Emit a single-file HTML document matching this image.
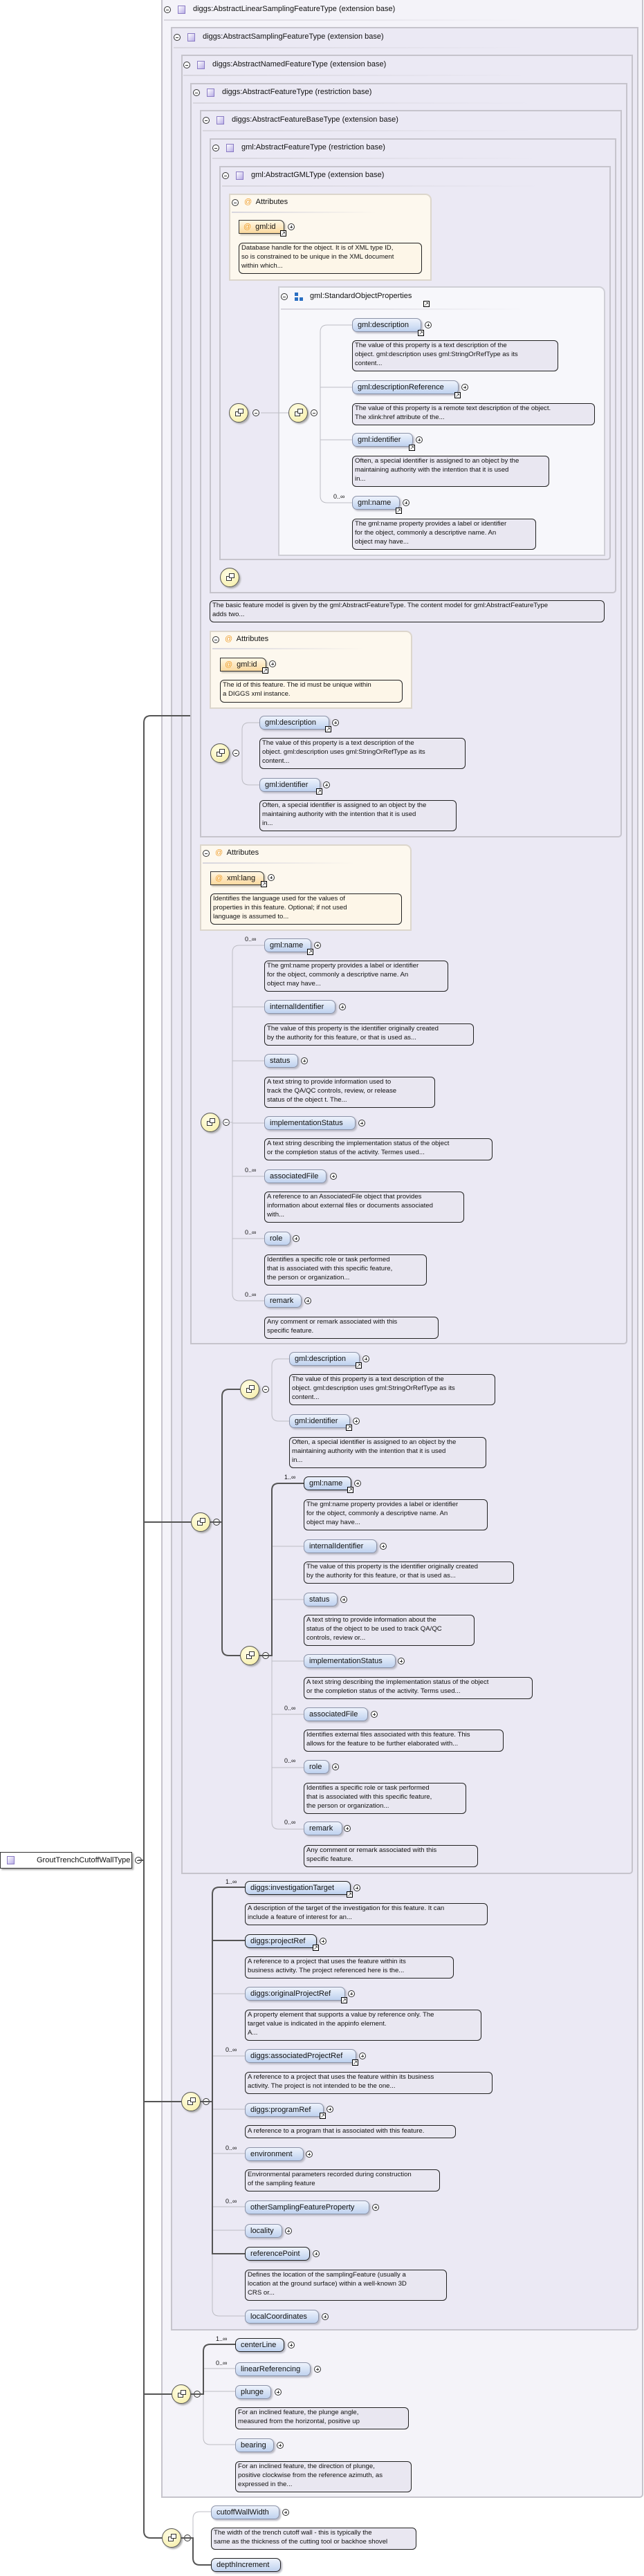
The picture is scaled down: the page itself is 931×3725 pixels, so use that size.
<!DOCTYPE html>
<html><head><meta charset="utf-8"><style>
*{box-sizing:border-box;margin:0;padding:0}
body{width:931px;height:3725px;position:relative;background:#fff;font-family:"Liberation Sans",sans-serif;color:#111;overflow:hidden}
.bx{position:absolute;border:2px solid #c6c4cc;border-radius:0 0 5px 0;background:#ebe9f4}
.b1{background:#f4f3f9}
.hd{position:absolute;font-size:11px;white-space:nowrap}
.mn{position:absolute;width:10px;height:10px;border:1px solid #333;border-radius:50%;background:#fff}
.mn:after{content:"";position:absolute;left:2px;top:4px;width:4px;height:1px;background:#333}
.pl{position:absolute;width:10px;height:10px;border:1px solid #333;border-radius:50%;background:#fff}
.pl:after{content:"";position:absolute;left:2px;top:4px;width:4px;height:1px;background:#333}
.pl:before{content:"";position:absolute;left:4px;top:2px;width:1px;height:4px;background:#333}
.sq{position:absolute;width:11px;height:12px;border:1px solid #8a7bc4;background:linear-gradient(135deg,#fff,#b9aee6)}
.sep{position:absolute;height:2px;background:linear-gradient(90deg,#d8d6de,rgba(216,214,222,0))}
.p{position:absolute;height:20px;border:1px solid #8c93a8;border-radius:7px;background:linear-gradient(#eef3fc,#bfd2ef);font-size:11px;line-height:18px;padding-left:7px;white-space:nowrap;box-shadow:2px 2px 2px #b9b9c4}
.p.k{border:1.5px solid #222}
.a{position:absolute;height:20px;border:1px solid #333;border-radius:0 7px 0 0;background:linear-gradient(#fff7e4,#fbd99e);font-size:11px;line-height:18px;padding-left:6px;white-space:nowrap;box-shadow:2px 2px 2px #c9c2b4}
.a i{color:#f0a030;font-style:normal;margin-right:6px}
.lk{position:absolute;width:9px;height:9px;border:1px solid #000;background:#fff;font-size:8px;line-height:7px;text-align:center}
.d{position:absolute;border:1px solid #222;border-radius:6px;background:#e9e7f1;font-size:9.6px;line-height:13px;padding:0 3px;white-space:nowrap;overflow:hidden}
.d.y{background:#fdf6e8}
.m{position:absolute;font-size:9px}
.at{position:absolute;border:2px solid #dcd6cc;border-radius:0 9px 0 0;background:#fdf8ee}
.sop{position:absolute;border:2px solid #cfcfd6;border-radius:0 9px 0 0;background:#f7f7fb}
.sc{position:absolute;width:28px;height:28px;border-radius:50%;border:1px solid #555;background:radial-gradient(circle at 40% 35%,#fffde6,#f5eda0);box-shadow:2px 2px 2px #aaa}
.sc:before{content:"";position:absolute;left:8px;top:11px;width:6px;height:5px;border:1px solid #333;background:#fff}
.sc:after{content:"";position:absolute;left:12px;top:7px;width:6px;height:5px;border:1px solid #333;background:#fff}
.root{position:absolute;left:0;top:2678px;width:191px;height:24px;border:1px solid #333;background:#fff;font-size:11px;line-height:22px;padding-left:52px;box-shadow:2px 2px 2px #aaa}
</style></head><body>

<!-- boxes -->
<div class="bx b1" style="left:233px;top:-2px;width:697px;height:3614px"></div>
<div class="bx" style="left:247px;top:39px;width:676px;height:3331px"></div>
<div class="bx" style="left:262px;top:79px;width:653px;height:2631px"></div>
<div class="bx" style="left:275px;top:120px;width:632px;height:1824px"></div>
<div class="bx" style="left:289px;top:159px;width:610px;height:1052px"></div>
<div class="bx" style="left:303px;top:200px;width:588px;height:658px"></div>
<div class="bx" style="left:317px;top:240px;width:566px;height:570px"></div>

<!-- headers -->
<div class="mn" style="left:237px;top:9px"></div><div class="sq" style="left:257px;top:8px"></div><div class="hd" style="left:279px;top:7px">diggs:AbstractLinearSamplingFeatureType (extension base)</div><div class="sep" style="left:237px;top:28px;width:520px"></div>
<div class="mn" style="left:251px;top:49px"></div><div class="sq" style="left:271px;top:48px"></div><div class="hd" style="left:293px;top:47px">diggs:AbstractSamplingFeatureType (extension base)</div><div class="sep" style="left:251px;top:68px;width:510px"></div>
<div class="mn" style="left:265px;top:89px"></div><div class="sq" style="left:285px;top:88px"></div><div class="hd" style="left:307px;top:87px">diggs:AbstractNamedFeatureType (extension base)</div><div class="sep" style="left:265px;top:108px;width:500px"></div>
<div class="mn" style="left:279px;top:129px"></div><div class="sq" style="left:299px;top:128px"></div><div class="hd" style="left:321px;top:127px">diggs:AbstractFeatureType (restriction base)</div><div class="sep" style="left:279px;top:148px;width:490px"></div>
<div class="mn" style="left:293px;top:169px"></div><div class="sq" style="left:313px;top:168px"></div><div class="hd" style="left:335px;top:167px">diggs:AbstractFeatureBaseType (extension base)</div><div class="sep" style="left:293px;top:188px;width:480px"></div>
<div class="mn" style="left:307px;top:209px"></div><div class="sq" style="left:327px;top:208px"></div><div class="hd" style="left:349px;top:207px">gml:AbstractFeatureType (restriction base)</div><div class="sep" style="left:307px;top:228px;width:470px"></div>
<div class="mn" style="left:321px;top:249px"></div><div class="sq" style="left:341px;top:248px"></div><div class="hd" style="left:363px;top:247px">gml:AbstractGMLType (extension base)</div><div class="sep" style="left:321px;top:268px;width:460px"></div>

<!-- Attributes box 1 -->
<div class="at" style="left:331px;top:280px;width:293px;height:126px"></div>
<div class="mn" style="left:335px;top:288px"></div><div class="hd" style="left:353px;top:286px"><span style="color:#f0a030">@</span>&nbsp; Attributes</div><div class="sep" style="left:335px;top:306px;width:210px"></div>
<div class="a" style="left:345px;top:318px;width:66px"><i>@</i>gml:id</div><div class="lk" style="left:405px;top:333px">↗</div><div class="pl" style="left:416px;top:323px"></div>
<div class="d y" style="left:345px;top:351px;width:265px;height:45px">Database handle for the object. It is of XML type ID,<br>so is constrained to be unique in the XML document<br>within which...</div>

<!-- StandardObjectProperties -->
<div class="sop" style="left:402px;top:414px;width:473px;height:390px"></div>
<div class="mn" style="left:406px;top:424px"></div>
<div style="position:absolute;left:426px;top:423px;width:5px;height:5px;background:#2a6fc2"></div><div style="position:absolute;left:426px;top:430px;width:5px;height:5px;background:#2a6fc2"></div><div style="position:absolute;left:433px;top:430px;width:5px;height:5px;background:#2a6fc2"></div>
<div class="hd" style="left:448px;top:422px">gml:StandardObjectProperties</div><div class="lk" style="left:612px;top:435px">↗</div><div class="sep" style="left:406px;top:446px;width:350px"></div>

<div class="p" style="left:509px;top:460px;width:100px">gml:description</div><div class="lk" style="left:604px;top:477px">↗</div><div class="pl" style="left:614px;top:465px"></div>
<div class="d" style="left:509px;top:492px;width:298px;height:45px">The value of this property is a text description of the<br>object. gml:description uses gml:StringOrRefType as its<br>content...</div>
<div class="p" style="left:509px;top:550px;width:154px">gml:descriptionReference</div><div class="lk" style="left:657px;top:567px">↗</div><div class="pl" style="left:667px;top:555px"></div>
<div class="d" style="left:509px;top:583px;width:351px;height:32px">The value of this property is a remote text description of the object.<br>The xlink:href attribute of the...</div>
<div class="p" style="left:509px;top:626px;width:88px">gml:identifier</div><div class="lk" style="left:591px;top:643px">↗</div><div class="pl" style="left:601px;top:631px"></div>
<div class="d" style="left:509px;top:659px;width:285px;height:45px">Often, a special identifier is assigned to an object by the<br>maintaining authority with the intention that it is used<br>in...</div>
<div class="m" style="left:482px;top:713px">0..∞</div>
<div class="p" style="left:509px;top:717px;width:69px">gml:name</div><div class="lk" style="left:572px;top:734px">↗</div><div class="pl" style="left:582px;top:722px"></div>
<div class="d" style="left:509px;top:750px;width:266px;height:45px">The gml:name property provides a label or identifier<br>for the object, commonly a descriptive name. An<br>object may have...</div>

<div class="sc" style="left:331px;top:583px"></div><div class="mn" style="left:365px;top:592px"></div>
<div class="sc" style="left:417px;top:583px"></div><div class="mn" style="left:449px;top:592px"></div>
<div class="sc" style="left:318px;top:821px"></div>

<div class="d" style="left:303px;top:868px;width:571px;height:32px">The basic feature model is given by the gml:AbstractFeatureType. The content model for gml:AbstractFeatureType<br>adds two...</div>

<!-- Attributes 2 -->
<div class="at" style="left:303px;top:912px;width:293px;height:113px"></div>
<div class="mn" style="left:307px;top:920px"></div><div class="hd" style="left:325px;top:918px"><span style="color:#f0a030">@</span>&nbsp; Attributes</div><div class="sep" style="left:307px;top:937px;width:220px"></div>
<div class="a" style="left:318px;top:951px;width:67px"><i>@</i>gml:id</div><div class="lk" style="left:379px;top:965px">↗</div><div class="pl" style="left:389px;top:955px"></div>
<div class="d y" style="left:318px;top:983px;width:264px;height:33px">The id of this feature. The id must be unique within<br>a DIGGS xml instance.</div>

<div class="sc" style="left:304px;top:1075px"></div><div class="mn" style="left:336px;top:1084px"></div>
<div class="p" style="left:375px;top:1035px;width:101px">gml:description</div><div class="lk" style="left:470px;top:1050px">↗</div><div class="pl" style="left:480px;top:1040px"></div>
<div class="d" style="left:375px;top:1067px;width:298px;height:45px">The value of this property is a text description of the<br>object. gml:description uses gml:StringOrRefType as its<br>content...</div>
<div class="p" style="left:375px;top:1125px;width:88px">gml:identifier</div><div class="lk" style="left:457px;top:1140px">↗</div><div class="pl" style="left:467px;top:1130px"></div>
<div class="d" style="left:375px;top:1157px;width:285px;height:45px">Often, a special identifier is assigned to an object by the<br>maintaining authority with the intention that it is used<br>in...</div>

<!-- Attributes 3 -->
<div class="at" style="left:289px;top:1221px;width:306px;height:125px"></div>
<div class="mn" style="left:293px;top:1229px"></div><div class="hd" style="left:311px;top:1227px"><span style="color:#f0a030">@</span>&nbsp; Attributes</div><div class="sep" style="left:293px;top:1247px;width:220px"></div>
<div class="a" style="left:304px;top:1260px;width:78px"><i>@</i>xml:lang</div><div class="lk" style="left:377px;top:1274px">↗</div><div class="pl" style="left:387px;top:1264px"></div>
<div class="d y" style="left:304px;top:1292px;width:277px;height:45px">Identifies the language used for the values of<br>properties in this feature. Optional; if not used<br>language is assumed to...</div>

<!-- Box4 sequence -->
<div class="sc" style="left:290px;top:1609px"></div><div class="mn" style="left:322px;top:1618px"></div>
<div class="m" style="left:354px;top:1353px">0..∞</div>
<div class="p" style="left:382px;top:1357px;width:68px">gml:name</div><div class="lk" style="left:444px;top:1372px">↗</div><div class="pl" style="left:454px;top:1362px"></div>
<div class="d" style="left:382px;top:1389px;width:266px;height:45px">The gml:name property provides a label or identifier<br>for the object, commonly a descriptive name. An<br>object may have...</div>
<div class="p" style="left:382px;top:1446px;width:103px">internalIdentifier</div><div class="pl" style="left:490px;top:1451px"></div>
<div class="d" style="left:382px;top:1480px;width:303px;height:32px">The value of this property is the identifier originally created<br>by the authority for this feature, or that is used as...</div>
<div class="p" style="left:382px;top:1524px;width:49px">status</div><div class="pl" style="left:435px;top:1529px"></div>
<div class="d" style="left:382px;top:1557px;width:247px;height:45px">A text string to provide information used to<br>track the QA/QC controls, review, or release<br>status of the object t. The...</div>
<div class="p" style="left:382px;top:1614px;width:132px">implementationStatus</div><div class="pl" style="left:518px;top:1619px"></div>
<div class="d" style="left:382px;top:1646px;width:330px;height:32px">A text string describing the implementation status of the object<br>or the completion status of the activity. Termes used...</div>
<div class="m" style="left:354px;top:1687px">0..∞</div>
<div class="p" style="left:382px;top:1691px;width:90px">associatedFile</div><div class="pl" style="left:477px;top:1696px"></div>
<div class="d" style="left:382px;top:1723px;width:289px;height:45px">A reference to an AssociatedFile object that provides<br>information about external files or documents associated<br>with...</div>
<div class="m" style="left:354px;top:1777px">0..∞</div>
<div class="p" style="left:382px;top:1781px;width:38px">role</div><div class="pl" style="left:423px;top:1786px"></div>
<div class="d" style="left:382px;top:1814px;width:235px;height:45px">Identifies a specific role or task performed<br>that is associated with this specific feature,<br>the person or organization...</div>
<div class="m" style="left:354px;top:1867px">0..∞</div>
<div class="p" style="left:382px;top:1871px;width:54px">remark</div><div class="pl" style="left:440px;top:1876px"></div>
<div class="d" style="left:382px;top:1904px;width:252px;height:32px">Any comment or remark associated with this<br>specific feature.</div>

<!-- Box3 choice -->
<div class="sc" style="left:276px;top:2187px"></div><div class="mn" style="left:308px;top:2196px"></div>
<div class="sc" style="left:347px;top:1995px"></div><div class="mn" style="left:379px;top:2004px"></div>
<div class="sc" style="left:347px;top:2380px"></div><div class="mn" style="left:379px;top:2389px"></div>
<div class="p" style="left:418px;top:1955px;width:102px">gml:description</div><div class="lk" style="left:514px;top:1970px">↗</div><div class="pl" style="left:524px;top:1960px"></div>
<div class="d" style="left:418px;top:1987px;width:298px;height:45px">The value of this property is a text description of the<br>object. gml:description uses gml:StringOrRefType as its<br>content...</div>
<div class="p" style="left:418px;top:2045px;width:88px">gml:identifier</div><div class="lk" style="left:500px;top:2060px">↗</div><div class="pl" style="left:510px;top:2050px"></div>
<div class="d" style="left:418px;top:2078px;width:285px;height:45px">Often, a special identifier is assigned to an object by the<br>maintaining authority with the intention that it is used<br>in...</div>
<div class="m" style="left:411px;top:2131px">1..∞</div>
<div class="p k" style="left:439px;top:2135px;width:69px">gml:name</div><div class="lk" style="left:502px;top:2150px">↗</div><div class="pl" style="left:512px;top:2140px"></div>
<div class="d" style="left:439px;top:2168px;width:266px;height:45px">The gml:name property provides a label or identifier<br>for the object, commonly a descriptive name. An<br>object may have...</div>
<div class="p" style="left:439px;top:2226px;width:106px">internalIdentifier</div><div class="pl" style="left:549px;top:2231px"></div>
<div class="d" style="left:439px;top:2258px;width:304px;height:32px">The value of this property is the identifier originally created<br>by the authority for this feature, or that is used as...</div>
<div class="p" style="left:439px;top:2303px;width:49px">status</div><div class="pl" style="left:492px;top:2308px"></div>
<div class="d" style="left:439px;top:2335px;width:247px;height:45px">A text string to provide information about the<br>status of the object to be used to track QA/QC<br>controls, review or...</div>
<div class="p" style="left:439px;top:2392px;width:133px">implementationStatus</div><div class="pl" style="left:575px;top:2397px"></div>
<div class="d" style="left:439px;top:2425px;width:331px;height:32px">A text string describing the implementation status of the object<br>or the completion status of the activity. Terms used...</div>
<div class="m" style="left:411px;top:2465px">0..∞</div>
<div class="p" style="left:439px;top:2469px;width:93px">associatedFile</div><div class="pl" style="left:536px;top:2474px"></div>
<div class="d" style="left:439px;top:2501px;width:289px;height:32px">Identifies external files associated with this feature. This<br>allows for the feature to be further elaborated with...</div>
<div class="m" style="left:411px;top:2541px">0..∞</div>
<div class="p" style="left:439px;top:2545px;width:37px">role</div><div class="pl" style="left:480px;top:2550px"></div>
<div class="d" style="left:439px;top:2578px;width:235px;height:45px">Identifies a specific role or task performed<br>that is associated with this specific feature,<br>the person or organization...</div>
<div class="m" style="left:411px;top:2630px">0..∞</div>
<div class="p" style="left:439px;top:2634px;width:56px">remark</div><div class="pl" style="left:497px;top:2639px"></div>
<div class="d" style="left:439px;top:2668px;width:252px;height:32px">Any comment or remark associated with this<br>specific feature.</div>

<!-- Box2 sequence -->
<div class="sc" style="left:262px;top:3025px"></div><div class="mn" style="left:293px;top:3034px"></div>
<div class="m" style="left:326px;top:2716px">1..∞</div>
<div class="p k" style="left:354px;top:2720px;width:153px">diggs:investigationTarget</div><div class="lk" style="left:501px;top:2735px">↗</div><div class="pl" style="left:511px;top:2725px"></div>
<div class="d" style="left:354px;top:2752px;width:351px;height:32px">A description of the target of the investigation for this feature. It can<br>include a feature of interest for an...</div>
<div class="p k" style="left:354px;top:2797px;width:104px">diggs:projectRef</div><div class="lk" style="left:452px;top:2812px">↗</div><div class="pl" style="left:462px;top:2802px"></div>
<div class="d" style="left:354px;top:2829px;width:302px;height:32px">A reference to a project that uses the feature within its<br>business activity. The project referenced here is the...</div>
<div class="p" style="left:354px;top:2873px;width:145px">diggs:originalProjectRef</div><div class="lk" style="left:493px;top:2888px">↗</div><div class="pl" style="left:503px;top:2878px"></div>
<div class="d" style="left:354px;top:2906px;width:342px;height:45px">A property element that supports a value by reference only. The<br>target value is indicated in the appinfo element.<br>A...</div>
<div class="m" style="left:326px;top:2959px">0..∞</div>
<div class="p" style="left:354px;top:2963px;width:161px">diggs:associatedProjectRef</div><div class="lk" style="left:509px;top:2978px">↗</div><div class="pl" style="left:519px;top:2968px"></div>
<div class="d" style="left:354px;top:2996px;width:358px;height:32px">A reference to a project that uses the feature within its business<br>activity. The project is not intended to be the one...</div>
<div class="p" style="left:354px;top:3041px;width:114px">diggs:programRef</div><div class="lk" style="left:462px;top:3055px">↗</div><div class="pl" style="left:472px;top:3045px"></div>
<div class="d" style="left:354px;top:3073px;width:305px;height:19px;line-height:16px">A reference to a program that is associated with this feature.</div>
<div class="m" style="left:326px;top:3101px">0..∞</div>
<div class="p" style="left:354px;top:3105px;width:85px">environment</div><div class="pl" style="left:442px;top:3110px"></div>
<div class="d" style="left:354px;top:3137px;width:282px;height:32px">Environmental parameters recorded during construction<br>of the sampling feature</div>
<div class="m" style="left:326px;top:3178px">0..∞</div>
<div class="p" style="left:354px;top:3182px;width:180px">otherSamplingFeatureProperty</div><div class="pl" style="left:538px;top:3187px"></div>
<div class="p" style="left:354px;top:3216px;width:54px">locality</div><div class="pl" style="left:412px;top:3221px"></div>
<div class="p k" style="left:354px;top:3249px;width:94px">referencePoint</div><div class="pl" style="left:452px;top:3254px"></div>
<div class="d" style="left:354px;top:3282px;width:292px;height:45px">Defines the location of the samplingFeature (usually a<br>location at the ground surface) within a well-known 3D<br>CRS or...</div>
<div class="p" style="left:354px;top:3340px;width:107px">localCoordinates</div><div class="pl" style="left:465px;top:3345px"></div>

<!-- Box1 sequence -->
<div class="sc" style="left:248px;top:3448px"></div><div class="mn" style="left:280px;top:3457px"></div>
<div class="m" style="left:312px;top:3377px">1..∞</div>
<div class="p k" style="left:340px;top:3381px;width:71px">centerLine</div><div class="pl" style="left:416px;top:3386px"></div>
<div class="m" style="left:312px;top:3412px">0..∞</div>
<div class="p" style="left:340px;top:3416px;width:109px">linearReferencing</div><div class="pl" style="left:454px;top:3421px"></div>
<div class="p" style="left:340px;top:3449px;width:52px">plunge</div><div class="pl" style="left:397px;top:3454px"></div>
<div class="d" style="left:340px;top:3481px;width:251px;height:32px">For an inclined feature, the plunge angle,<br>measured from the horizontal, positive up</div>
<div class="p" style="left:340px;top:3526px;width:56px">bearing</div><div class="pl" style="left:400px;top:3531px"></div>
<div class="d" style="left:340px;top:3559px;width:255px;height:45px">For an inclined feature, the direction of plunge,<br>positive clockwise from the reference azimuth, as<br>expressed in the...</div>

<!-- Final sequence -->
<div class="sc" style="left:234px;top:3656px"></div><div class="mn" style="left:266px;top:3665px"></div>
<div class="p" style="left:305px;top:3623px;width:99px">cutoffWallWidth</div><div class="pl" style="left:408px;top:3628px"></div>
<div class="d" style="left:305px;top:3655px;width:297px;height:32px">The width of the trench cutoff wall - this is typically the<br>same as the thickness of the cutting tool or backhoe shovel</div>
<div class="p k" style="left:305px;top:3699px;width:101px">depthIncrement</div>

<!-- root -->
<div class="root">GroutTrenchCutoffWallType</div><div class="sq" style="left:10px;top:2684px"></div><div class="mn" style="left:195px;top:2685px"></div>

<svg style="position:absolute;left:0;top:0" width="931" height="3725" fill="none">
<g stroke="#bdbdc4" stroke-width="1">
<path d="M377 597H417"/>
<path d="M509 470H473Q463 470 463 480V717Q463 727 473 727H509M463 560H509M463 636H509"/>
<path d="M375 1045H360Q350 1045 350 1055V1125Q350 1135 360 1135H375"/>
<path d="M382 1367H346Q336 1367 336 1377V1871Q336 1881 346 1881H382M336 1456H382M336 1534H382M336 1624H382M336 1701H382M336 1791H382M318 1623H336"/>
<path d="M418 1965H403Q393 1965 393 1975V2045Q393 2055 403 2055H418"/>
<path d="M393 2394V2635Q393 2645 403 2645H439M393 2236H439M393 2313H439M393 2402H439M393 2479H439M393 2556H439"/>
<path d="M307 3259V3339Q307 3349 317 3349H354M307 2883H354M307 2973H354M307 3050H354M307 3114H354M307 3191H354M307 3225H354"/>
<path d="M294 3462V3525Q294 3535 304 3535H340M294 3425H340M294 3458H340"/>
<path d="M279 3670V3642Q279 3632 289 3632H305"/>
</g>
<g stroke="#555" stroke-width="2">
<path d="M208 3660V1045Q208 1035 218 1035H275"/>
<path d="M208 3660Q208 3670 218 3670H234M208 2201H276M208 3039H262M208 3462H248M200 2690H208"/>
<path d="M347 2009H331Q321 2009 321 2019V2384Q321 2394 331 2394H347M304 2201H321"/>
<path d="M375 2394H393V2155Q393 2145 403 2145H439"/>
<path d="M290 3039H307M354 2729H317Q307 2729 307 2739V3259H354M307 2806H354"/>
<path d="M276 3462H294V3400Q294 3390 304 3390H340"/>
<path d="M262 3670H279V3699Q279 3709 289 3709H305"/>
</g>
</svg>
</body></html>
